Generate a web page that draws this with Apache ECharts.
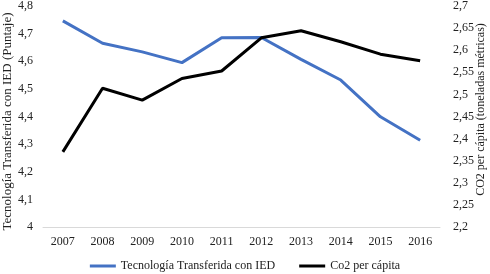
<!DOCTYPE html>
<html>
<head>
<meta charset="UTF-8">
<title>Tecnología y CO2</title>
<script src="https://cdn.jsdelivr.net/npm/echarts@6/dist/echarts.min.js"></script>
<style>
  html, body { margin: 0; padding: 0; background: #fff; }
  #main { width: 490px; height: 274px; }
</style>
</head>
<body>
<div id="main"></div>
<script>
var years = ['2007', '2008', '2009', '2010', '2011', '2012', '2013', '2014', '2015', '2016'];
var tecnologia = [4.746, 4.665, 4.634, 4.595, 4.685, 4.686, 4.607, 4.532, 4.399, 4.314];
var co2 = [2.370, 2.514, 2.487, 2.536, 2.553, 2.628, 2.644, 2.619, 2.591, 2.576];

function coma(v) {
    return String(parseFloat(v.toFixed(2))).replace('.', ',');
}

var font = 'Liberation Serif';
var myChart = echarts.init(document.getElementById('main'));
var option = {
    animation: false,
    textStyle: { fontFamily: font },
    grid: { left: 43, right: 50, top: 6, bottom: 47, outerBoundsMode: 'none', containLabel: false },
    legend: {
        bottom: -3,
        left: 'center',
        icon: 'rect',
        itemWidth: 26,
        itemHeight: 3,
        itemGap: 24,
        textStyle: { fontFamily: font, fontSize: 12, color: '#222' },
        data: ['Tecnología Transferida con IED', 'Co2 per cápita']
    },
    xAxis: {
        type: 'category',
        data: years,
        axisLine: { lineStyle: { color: '#d9d9d9', width: 1 } },
        axisTick: { show: false },
        axisLabel: { fontFamily: font, fontSize: 12, color: '#222', margin: 9 }
    },
    yAxis: [
        {
            type: 'value',
            min: 4, max: 4.8, interval: 0.1,
            name: 'Tecnología Transferida con IED (Puntaje)',
            nameLocation: 'middle',
            nameGap: 29,
            nameMoveOverlap: false,
            nameTextStyle: { fontFamily: font, fontSize: 13, color: '#222', padding: [0, 10, 0, 0] },
            splitLine: { show: false },
            axisLine: { show: false },
            axisTick: { show: false },
            axisLabel: { fontFamily: font, fontSize: 12, color: '#222', margin: 10, formatter: coma }
        },
        {
            type: 'value',
            min: 2.2, max: 2.7, interval: 0.05,
            name: 'CO2 per cápita (toneladas métricas)',
            nameLocation: 'middle',
            nameGap: 35,
            nameMoveOverlap: false,
            nameTextStyle: { fontFamily: font, fontSize: 12, color: '#222', padding: [0, 0, 0, 14] },
            splitLine: { show: false },
            axisLine: { show: false },
            axisTick: { show: false },
            axisLabel: { fontFamily: font, fontSize: 12, color: '#222', margin: 13, formatter: coma }
        }
    ],
    series: [
        {
            name: 'Tecnología Transferida con IED',
            type: 'line',
            yAxisIndex: 0,
            data: tecnologia,
            symbol: 'none',
            lineStyle: { color: '#4472c4', width: 3 },
            itemStyle: { color: '#4472c4' }
        },
        {
            name: 'Co2 per cápita',
            type: 'line',
            yAxisIndex: 1,
            data: co2,
            symbol: 'none',
            lineStyle: { color: '#000000', width: 3 },
            itemStyle: { color: '#000000' }
        }
    ]
};
myChart.setOption(option);
</script>
</body>
</html>
